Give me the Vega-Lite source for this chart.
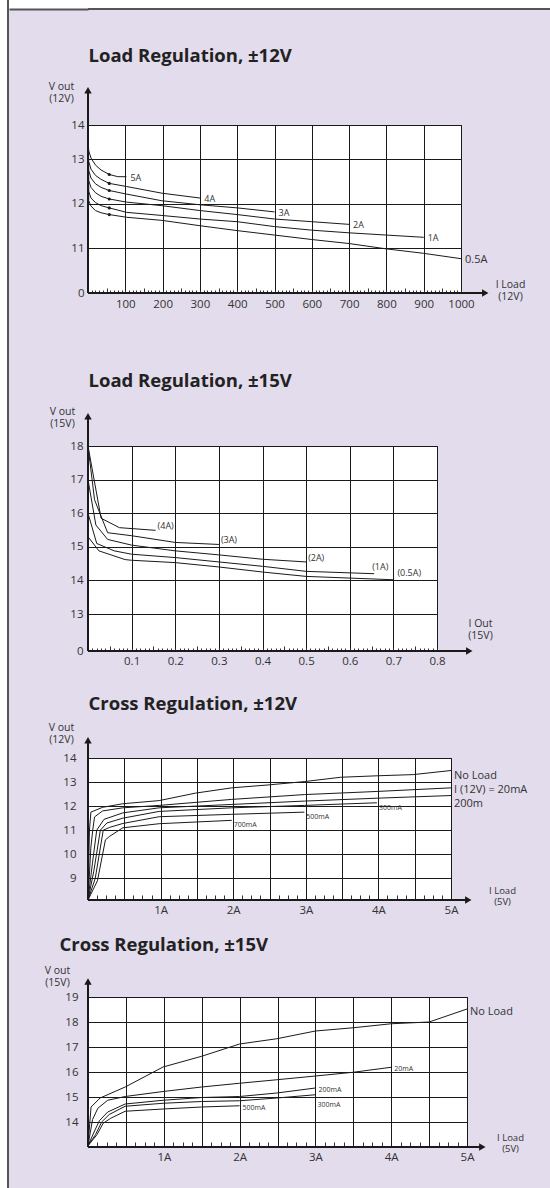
{
"$schema": "https://vega.github.io/schema/vega-lite/v6.json",
"background": "#e2dcec",
"padding": {"left": 0, "top": 0, "right": 40, "bottom": 0},
"config": {
  "font": "Open Sans",
  "view": {"fill": "white", "stroke": "#1a1a1a", "strokeWidth": 1},
  "axis": {"domain": false, "ticks": false, "grid": false, "labelColor": "#333333", "labelFontSize": 11.5, "labelFont": "Open Sans", "gridColor": "#1a1a1a", "gridOpacity": 1, "gridWidth": 1, "titleColor": "#333333", "titleFontWeight": "normal", "titleFontSize": 10.5, "titleFont": "Open Sans", "labelOverlap": false, "labelFlush": false, "tickColor": "#333333", "tickWidth": 1},
  "text": {"font": "Open Sans", "color": "#333333"}
},
"datasets": {
  "p1": [
    {"s":"5A","x":0,"y":13.45},{"s":"5A","x":2,"y":13.19},{"s":"5A","x":8,"y":13.03},{"s":"5A","x":20,"y":12.87},{"s":"5A","x":35,"y":12.76},{"s":"5A","x":57,"y":12.66},{"s":"5A","x":80,"y":12.61},{"s":"5A","x":103,"y":12.61},
    {"s":"4A","x":0,"y":13.45},{"s":"4A","x":2,"y":12.95},{"s":"4A","x":8,"y":12.78},{"s":"4A","x":20,"y":12.64},{"s":"4A","x":35,"y":12.55},{"s":"4A","x":57,"y":12.46},{"s":"4A","x":103,"y":12.39},{"s":"4A","x":198,"y":12.24},{"s":"4A","x":301,"y":12.13},
    {"s":"3A","x":0,"y":13.45},{"s":"3A","x":2,"y":12.75},{"s":"3A","x":8,"y":12.58},{"s":"3A","x":20,"y":12.45},{"s":"3A","x":35,"y":12.37},{"s":"3A","x":57,"y":12.3},{"s":"3A","x":103,"y":12.22},{"s":"3A","x":198,"y":12.07},{"s":"3A","x":300,"y":11.98},{"s":"3A","x":400,"y":11.91},{"s":"3A","x":500,"y":11.82},
    {"s":"2A","x":0,"y":13.45},{"s":"2A","x":2,"y":12.52},{"s":"2A","x":8,"y":12.37},{"s":"2A","x":20,"y":12.25},{"s":"2A","x":35,"y":12.17},{"s":"2A","x":57,"y":12.11},{"s":"2A","x":103,"y":12.04},{"s":"2A","x":198,"y":11.96},{"s":"2A","x":300,"y":11.85},{"s":"2A","x":400,"y":11.76},{"s":"2A","x":500,"y":11.66},{"s":"2A","x":600,"y":11.6},{"s":"2A","x":700,"y":11.54},
    {"s":"1A","x":0,"y":13.45},{"s":"1A","x":2,"y":12.28},{"s":"1A","x":8,"y":12.13},{"s":"1A","x":20,"y":12.03},{"s":"1A","x":35,"y":11.96},{"s":"1A","x":57,"y":11.91},{"s":"1A","x":103,"y":11.81},{"s":"1A","x":198,"y":11.74},{"s":"1A","x":300,"y":11.66},{"s":"1A","x":400,"y":11.6},{"s":"1A","x":500,"y":11.49},{"s":"1A","x":600,"y":11.41},{"s":"1A","x":700,"y":11.35},{"s":"1A","x":800,"y":11.3},{"s":"1A","x":900,"y":11.25},
    {"s":"0.5A","x":0,"y":13.45},{"s":"0.5A","x":2,"y":12.07},{"s":"0.5A","x":8,"y":11.95},{"s":"0.5A","x":20,"y":11.85},{"s":"0.5A","x":35,"y":11.8},{"s":"0.5A","x":57,"y":11.76},{"s":"0.5A","x":103,"y":11.7},{"s":"0.5A","x":198,"y":11.63},{"s":"0.5A","x":300,"y":11.51},{"s":"0.5A","x":400,"y":11.4},{"s":"0.5A","x":500,"y":11.3},{"s":"0.5A","x":600,"y":11.2},{"s":"0.5A","x":700,"y":11.11},{"s":"0.5A","x":800,"y":10.99},{"s":"0.5A","x":900,"y":10.89},{"s":"0.5A","x":1000,"y":10.77}
  ],
  "p2": [
    {"s":"(4A)","x":0,"y":18},{"s":"(4A)","x":0.03,"y":15.85},{"s":"(4A)","x":0.072,"y":15.57},{"s":"(4A)","x":0.155,"y":15.49},
    {"s":"(3A)","x":0,"y":18},{"s":"(3A)","x":0.015,"y":16.4},{"s":"(3A)","x":0.045,"y":15.42},{"s":"(3A)","x":0.1,"y":15.33},{"s":"(3A)","x":0.2,"y":15.13},{"s":"(3A)","x":0.3,"y":15.07},
    {"s":"(2A)","x":0,"y":17},{"s":"(2A)","x":0.018,"y":15.65},{"s":"(2A)","x":0.045,"y":15.22},{"s":"(2A)","x":0.1,"y":15.05},{"s":"(2A)","x":0.2,"y":14.88},{"s":"(2A)","x":0.3,"y":14.76},{"s":"(2A)","x":0.4,"y":14.63},{"s":"(2A)","x":0.5,"y":14.55},
    {"s":"(1A)","x":0,"y":16},{"s":"(1A)","x":0.02,"y":15.1},{"s":"(1A)","x":0.06,"y":14.88},{"s":"(1A)","x":0.1,"y":14.78},{"s":"(1A)","x":0.2,"y":14.68},{"s":"(1A)","x":0.3,"y":14.55},{"s":"(1A)","x":0.4,"y":14.42},{"s":"(1A)","x":0.5,"y":14.27},{"s":"(1A)","x":0.656,"y":14.2},
    {"s":"(0.5A)","x":0,"y":15.3},{"s":"(0.5A)","x":0.025,"y":14.88},{"s":"(0.5A)","x":0.085,"y":14.62},{"s":"(0.5A)","x":0.1,"y":14.6},{"s":"(0.5A)","x":0.2,"y":14.53},{"s":"(0.5A)","x":0.3,"y":14.4},{"s":"(0.5A)","x":0.4,"y":14.25},{"s":"(0.5A)","x":0.5,"y":14.12},{"s":"(0.5A)","x":0.7,"y":14.02}
  ],
  "p3": [
    {"s":"No Load","x":0,"y":8.1},{"s":"No Load","x":0.02,"y":11.0},{"s":"No Load","x":0.04,"y":11.75},{"s":"No Load","x":0.2,"y":11.95},{"s":"No Load","x":0.48,"y":12.1},{"s":"No Load","x":0.98,"y":12.23},{"s":"No Load","x":1.48,"y":12.54},{"s":"No Load","x":1.98,"y":12.76},{"s":"No Load","x":2.48,"y":12.88},{"s":"No Load","x":2.98,"y":13.02},{"s":"No Load","x":3.48,"y":13.2},{"s":"No Load","x":3.98,"y":13.26},{"s":"No Load","x":4.48,"y":13.31},{"s":"No Load","x":5,"y":13.48},
    {"s":"I (12V) = 20mA","x":0,"y":8.1},{"s":"I (12V) = 20mA","x":0.04,"y":10.3},{"s":"I (12V) = 20mA","x":0.065,"y":11.0},{"s":"I (12V) = 20mA","x":0.09,"y":11.55},{"s":"I (12V) = 20mA","x":0.2,"y":11.8},{"s":"I (12V) = 20mA","x":0.48,"y":11.93},{"s":"I (12V) = 20mA","x":0.98,"y":12.03},{"s":"I (12V) = 20mA","x":1.98,"y":12.28},{"s":"I (12V) = 20mA","x":2.98,"y":12.48},{"s":"I (12V) = 20mA","x":3.98,"y":12.61},{"s":"I (12V) = 20mA","x":5,"y":12.76},
    {"s":"200m","x":0,"y":8.1},{"s":"200m","x":0.06,"y":9.6},{"s":"200m","x":0.12,"y":11.0},{"s":"200m","x":0.22,"y":11.45},{"s":"200m","x":0.48,"y":11.72},{"s":"200m","x":0.98,"y":11.93},{"s":"200m","x":1.98,"y":12.07},{"s":"200m","x":2.98,"y":12.21},{"s":"200m","x":3.98,"y":12.33},{"s":"200m","x":5,"y":12.44},
    {"s":"300mA","x":0,"y":8.1},{"s":"300mA","x":0.08,"y":9.3},{"s":"300mA","x":0.17,"y":11.0},{"s":"300mA","x":0.26,"y":11.3},{"s":"300mA","x":0.48,"y":11.5},{"s":"300mA","x":0.98,"y":11.78},{"s":"300mA","x":1.98,"y":11.93},{"s":"300mA","x":2.98,"y":12.03},{"s":"300mA","x":3.98,"y":12.14},
    {"s":"500mA","x":0,"y":8.1},{"s":"500mA","x":0.1,"y":9.0},{"s":"500mA","x":0.21,"y":11.0},{"s":"500mA","x":0.3,"y":11.12},{"s":"500mA","x":0.48,"y":11.28},{"s":"500mA","x":0.98,"y":11.56},{"s":"500mA","x":1.98,"y":11.66},{"s":"500mA","x":2.98,"y":11.75},
    {"s":"700mA","x":0,"y":8.1},{"s":"700mA","x":0.13,"y":8.9},{"s":"700mA","x":0.24,"y":10.6},{"s":"700mA","x":0.3,"y":10.75},{"s":"700mA","x":0.48,"y":11.1},{"s":"700mA","x":0.98,"y":11.27},{"s":"700mA","x":1.98,"y":11.41}
  ],
  "p4": [
    {"s":"No Load","x":0,"y":13.05},{"s":"No Load","x":0.04,"y":14.6},{"s":"No Load","x":0.16,"y":14.96},{"s":"No Load","x":0.49,"y":15.4},{"s":"No Load","x":0.99,"y":16.2},{"s":"No Load","x":1.5,"y":16.63},{"s":"No Load","x":2.0,"y":17.12},{"s":"No Load","x":2.49,"y":17.33},{"s":"No Load","x":3.0,"y":17.64},{"s":"No Load","x":3.5,"y":17.77},{"s":"No Load","x":4.0,"y":17.93},{"s":"No Load","x":4.5,"y":18.0},{"s":"No Load","x":5.0,"y":18.52},
    {"s":"20mA","x":0,"y":13.05},{"s":"20mA","x":0.06,"y":14.1},{"s":"20mA","x":0.13,"y":14.55},{"s":"20mA","x":0.26,"y":14.87},{"s":"20mA","x":0.49,"y":15.02},{"s":"20mA","x":0.99,"y":15.22},{"s":"20mA","x":1.5,"y":15.4},{"s":"20mA","x":2.0,"y":15.55},{"s":"20mA","x":2.49,"y":15.69},{"s":"20mA","x":3.0,"y":15.84},{"s":"20mA","x":3.5,"y":15.99},{"s":"20mA","x":4.0,"y":16.19},
    {"s":"200mA","x":0,"y":13.05},{"s":"200mA","x":0.08,"y":13.6},{"s":"200mA","x":0.15,"y":14.05},{"s":"200mA","x":0.26,"y":14.4},{"s":"200mA","x":0.49,"y":14.72},{"s":"200mA","x":0.99,"y":14.87},{"s":"200mA","x":1.5,"y":14.98},{"s":"200mA","x":2.0,"y":15.02},{"s":"200mA","x":2.49,"y":15.16},{"s":"200mA","x":3.0,"y":15.36},
    {"s":"300mA","x":0,"y":13.05},{"s":"300mA","x":0.1,"y":13.5},{"s":"300mA","x":0.18,"y":14.0},{"s":"300mA","x":0.28,"y":14.3},{"s":"300mA","x":0.49,"y":14.63},{"s":"300mA","x":0.99,"y":14.75},{"s":"300mA","x":1.5,"y":14.82},{"s":"300mA","x":2.0,"y":14.85},{"s":"300mA","x":2.49,"y":14.96},{"s":"300mA","x":3.0,"y":15.09},
    {"s":"500mA","x":0,"y":13.05},{"s":"500mA","x":0.12,"y":13.5},{"s":"500mA","x":0.2,"y":13.95},{"s":"500mA","x":0.3,"y":14.15},{"s":"500mA","x":0.49,"y":14.43},{"s":"500mA","x":0.99,"y":14.52},{"s":"500mA","x":1.5,"y":14.6},{"s":"500mA","x":2.0,"y":14.65}
  ]
},
"spacing": 0,
"bounds": "flush",
"hconcat": [
  {"width": 7, "height": 1188, "data": {"values": []}, "mark": "point", "view": {"fill": "white", "stroke": null}},
  {"width": 2, "height": 1188, "data": {"values": []}, "mark": "point", "view": {"fill": "#555555", "stroke": null}},
  {"width": 79, "height": 9, "data": {"values": [{}]},
   "mark": {"type": "point", "opacity": 0},
   "encoding": {"x": {"datum": 0, "type": "quantitative", "scale": {"domain": [0, 1]},
     "axis": {"orient": "bottom", "domain": true, "domainColor": "#555555", "domainWidth": 2, "labels": false, "ticks": false, "grid": false, "title": null}}},
   "view": {"fill": "white", "stroke": null}},
  {
    "spacing": 0,
    "bounds": "flush",
    "vconcat": [
      {"width": 462, "height": 8, "data": {"values": []}, "mark": "point", "view": {"fill": "white", "stroke": null}},
      {"width": 462, "height": 2, "data": {"values": []}, "mark": "point", "view": {"fill": "#555555", "stroke": null}},
      {"width": 10, "height": 115, "data": {"values": []}, "mark": "point", "view": {"fill": null, "stroke": null}},
      {
        "width": 373, "height": 168,
        "resolve": {"axis": {"x": "independent", "y": "independent"}},
        "layer": [
          {"data": {"name": "p1"}, "mark": {"type": "line", "color": "#1a1a1a", "strokeWidth": 1},
           "encoding": {
             "x": {"field": "x", "type": "quantitative", "scale": {"domain": [0, 1000], "nice": false, "zero": false},
                   "axis": {"orient": "bottom", "values": [100,200,300,400,500,600,700,800,900,1000], "format": "d", "grid": true, "labelPadding": 5, "title": ["I Load", "(12V)"], "titleX": 422, "titleY": -14, "titleAlign": "center", "titleBaseline": "top", "titleLineHeight": 12}},
             "y": {"field": "y", "type": "quantitative", "scale": {"domain": [10, 13.77], "nice": false, "zero": false},
                   "axis": {"orient": "left", "values": [10,11,12,13,13.77], "grid": true, "labelPadding": 4, "labelExpr": "datum.value < 10.5 ? '0' : datum.value > 13.5 ? '14' : datum.label", "title": ["V out", "(12V)"], "titleAngle": 0, "titleX": -27, "titleY": -44, "titleAlign": "center", "titleBaseline": "top", "titleLineHeight": 12}},
             "detail": {"field": "s"}}},
          {"data": {"name": "p1"}, "transform": [{"filter": "datum.x == 57"}],
           "mark": {"type": "circle", "color": "#1a1a1a", "size": 10, "opacity": 1},
           "encoding": {
             "x": {"field": "x", "type": "quantitative", "scale": {"domain": [0, 1000], "nice": false, "zero": false},
                   "axis": {"orient": "bottom", "tickCount": 100, "ticks": true, "tickSize": -3, "labels": false, "title": null}},
             "y": {"field": "y", "type": "quantitative", "scale": {"domain": [10, 13.77], "nice": false, "zero": false}, "axis": null}}},
          {"data": {"name": "p1"},
           "transform": [{"joinaggregate": [{"op": "max", "field": "x", "as": "mx"}], "groupby": ["s"]}, {"filter": "datum.x == datum.mx"}],
           "mark": {"type": "text", "align": "left", "baseline": "middle", "dx": 4, "dy": 1},
           "encoding": {
             "x": {"field": "x", "type": "quantitative", "scale": {"domain": [0, 1000], "nice": false, "zero": false},
                   "axis": {"orient": "bottom", "values": [50,150,250,350,450,550,650,750,850,950], "ticks": true, "tickSize": -5, "labels": false, "title": null}},
             "y": {"field": "y", "type": "quantitative", "scale": {"domain": [10, 13.77], "nice": false, "zero": false}, "axis": null},
             "text": {"field": "s"},
             "size": {"condition": {"test": "datum.s == '0.5A'", "value": 11}, "value": 9}}},
          {"data": {"values": [{}]}, "mark": {"type": "rule", "color": "#1a1a1a", "strokeWidth": 2},
           "encoding": {
             "x": {"datum": 0, "type": "quantitative", "scale": {"domain": [0, 1000], "nice": false, "zero": false},
                   "axis": {"orient": "top", "labels": false, "title": "Load Regulation, ±12V", "titleX": 0, "titleY": -64, "titleAlign": "left", "titleBaseline": "alphabetic", "titleFontSize": 18.5, "titleFontWeight": "bold", "titleColor": "#222222"}},
             "x2": {"datum": 1065},
             "y": {"datum": 10, "type": "quantitative", "scale": {"domain": [10, 13.77], "nice": false, "zero": false}, "axis": null}}},
          {"data": {"values": [{}]}, "mark": {"type": "point", "shape": "triangle-right", "filled": true, "size": 55, "color": "#1a1a1a", "opacity": 1},
           "encoding": {
             "x": {"datum": 1065, "type": "quantitative", "scale": {"domain": [0, 1000], "nice": false, "zero": false}, "axis": null},
             "y": {"datum": 10, "type": "quantitative", "scale": {"domain": [10, 13.77], "nice": false, "zero": false}, "axis": null}}},
          {"data": {"values": [{}]}, "mark": {"type": "rule", "color": "#1a1a1a", "strokeWidth": 2},
           "encoding": {
             "x": {"datum": 0, "type": "quantitative", "scale": {"domain": [0, 1000], "nice": false, "zero": false}, "axis": null},
             "y": {"datum": 10, "type": "quantitative", "scale": {"domain": [10, 13.77], "nice": false, "zero": false}, "axis": null},
             "y2": {"datum": 14.55}}},
          {"data": {"values": [{}]}, "mark": {"type": "point", "shape": "triangle-up", "filled": true, "size": 55, "color": "#1a1a1a", "opacity": 1},
           "encoding": {
             "x": {"datum": 0, "type": "quantitative", "scale": {"domain": [0, 1000], "nice": false, "zero": false}, "axis": null},
             "y": {"datum": 14.55, "type": "quantitative", "scale": {"domain": [10, 13.77], "nice": false, "zero": false}, "axis": null}}}
        ]
      },
      {"width": 10, "height": 153, "data": {"values": []}, "mark": "point", "view": {"fill": null, "stroke": null}},
      {
        "width": 349, "height": 205,
        "resolve": {"axis": {"x": "independent", "y": "independent"}},
        "layer": [
          {"data": {"name": "p2"}, "mark": {"type": "line", "color": "#1a1a1a", "strokeWidth": 1},
           "encoding": {
             "x": {"field": "x", "type": "quantitative", "scale": {"domain": [0, 0.8], "nice": false, "zero": false},
                   "axis": {"orient": "bottom", "values": [0.1,0.2,0.3,0.4,0.5,0.6,0.7,0.8], "format": ".1f", "grid": true, "labelPadding": 4, "title": ["I Out", "(15V)"], "titleX": 392, "titleY": -33, "titleAlign": "center", "titleBaseline": "top", "titleLineHeight": 12.5}},
             "y": {"field": "y", "type": "quantitative", "scale": {"domain": [11.9, 18], "nice": false, "zero": false},
                   "axis": {"orient": "left", "values": [11.9,13,14,15,16,17,18], "grid": true, "labelPadding": 5, "labelExpr": "datum.value < 12.5 ? '0' : datum.label", "title": ["V out", "(15V)"], "titleAngle": 0, "titleX": -26, "titleY": -40, "titleAlign": "center", "titleBaseline": "top", "titleLineHeight": 12}},
             "detail": {"field": "s"}}},
          {"data": {"name": "p2"},
           "transform": [{"joinaggregate": [{"op": "max", "field": "x", "as": "mx"}], "groupby": ["s"]}, {"filter": "datum.x == datum.mx && datum.s != '(1A)' && datum.s != '(0.5A)'"}],
           "mark": {"type": "text", "align": "left", "baseline": "middle", "dx": 2, "dy": -4, "fontSize": 9},
           "encoding": {
             "x": {"field": "x", "type": "quantitative", "scale": {"domain": [0, 0.8], "nice": false, "zero": false},
                   "axis": {"orient": "bottom", "tickCount": 80, "ticks": true, "tickSize": -3, "labels": false, "title": null}},
             "y": {"field": "y", "type": "quantitative", "scale": {"domain": [11.9, 18], "nice": false, "zero": false}, "axis": null},
             "text": {"field": "s"}}},
          {"data": {"name": "p2"},
           "transform": [{"joinaggregate": [{"op": "max", "field": "x", "as": "mx"}], "groupby": ["s"]}, {"filter": "datum.x == datum.mx && datum.s == '(1A)'"}],
           "mark": {"type": "text", "align": "left", "baseline": "middle", "dx": -2, "dy": -7, "fontSize": 9},
           "encoding": {
             "x": {"field": "x", "type": "quantitative", "scale": {"domain": [0, 0.8], "nice": false, "zero": false}, "axis": null},
             "y": {"field": "y", "type": "quantitative", "scale": {"domain": [11.9, 18], "nice": false, "zero": false}, "axis": null},
             "text": {"field": "s"}}},
          {"data": {"name": "p2"},
           "transform": [{"joinaggregate": [{"op": "max", "field": "x", "as": "mx"}], "groupby": ["s"]}, {"filter": "datum.x == datum.mx && datum.s == '(0.5A)'"}],
           "mark": {"type": "text", "align": "left", "baseline": "middle", "dx": 4, "dy": -7, "fontSize": 9},
           "encoding": {
             "x": {"field": "x", "type": "quantitative", "scale": {"domain": [0, 0.8], "nice": false, "zero": false}, "axis": null},
             "y": {"field": "y", "type": "quantitative", "scale": {"domain": [11.9, 18], "nice": false, "zero": false}, "axis": null},
             "text": {"field": "s"}}},
          {"data": {"values": [{}]}, "mark": {"type": "rule", "color": "#1a1a1a", "strokeWidth": 2},
           "encoding": {
             "x": {"datum": 0, "type": "quantitative", "scale": {"domain": [0, 0.8], "nice": false, "zero": false},
                   "axis": {"orient": "top", "labels": false, "title": "Load Regulation, ±15V", "titleX": 0, "titleY": -60, "titleAlign": "left", "titleBaseline": "alphabetic", "titleFontSize": 18.5, "titleFontWeight": "bold", "titleColor": "#222222"}},
             "x2": {"datum": 0.874},
             "y": {"datum": 11.9, "type": "quantitative", "scale": {"domain": [11.9, 18], "nice": false, "zero": false}, "axis": null}}},
          {"data": {"values": [{}]}, "mark": {"type": "point", "shape": "triangle-right", "filled": true, "size": 55, "color": "#1a1a1a", "opacity": 1},
           "encoding": {
             "x": {"datum": 0.874, "type": "quantitative", "scale": {"domain": [0, 0.8], "nice": false, "zero": false},
                   "axis": {"orient": "bottom", "values": [0.05,0.15,0.25,0.35,0.45,0.55,0.65,0.75], "ticks": true, "tickSize": -5, "labels": false, "title": null}},
             "y": {"datum": 11.9, "type": "quantitative", "scale": {"domain": [11.9, 18], "nice": false, "zero": false}, "axis": null}}},
          {"data": {"values": [{}]}, "mark": {"type": "rule", "color": "#1a1a1a", "strokeWidth": 2},
           "encoding": {
             "x": {"datum": 0, "type": "quantitative", "scale": {"domain": [0, 0.8], "nice": false, "zero": false}, "axis": null},
             "y": {"datum": 11.9, "type": "quantitative", "scale": {"domain": [11.9, 18], "nice": false, "zero": false}, "axis": null},
             "y2": {"datum": 18.885}}},
          {"data": {"values": [{}]}, "mark": {"type": "point", "shape": "triangle-up", "filled": true, "size": 55, "color": "#1a1a1a", "opacity": 1},
           "encoding": {
             "x": {"datum": 0, "type": "quantitative", "scale": {"domain": [0, 0.8], "nice": false, "zero": false}, "axis": null},
             "y": {"datum": 18.885, "type": "quantitative", "scale": {"domain": [11.9, 18], "nice": false, "zero": false}, "axis": null}}}
        ]
      },
      {"width": 10, "height": 107, "data": {"values": []}, "mark": "point", "view": {"fill": null, "stroke": null}},
      {
        "width": 363, "height": 142,
        "resolve": {"axis": {"x": "independent", "y": "independent"}},
        "layer": [
          {"data": {"name": "p3"}, "mark": {"type": "line", "color": "#1a1a1a", "strokeWidth": 1},
           "encoding": {
             "x": {"field": "x", "type": "quantitative", "scale": {"domain": [0, 5], "nice": false, "zero": false},
                   "axis": {"orient": "bottom", "values": [0.5,1,1.5,2,2.5,3,3.5,4,4.5,5], "grid": true, "labelPadding": 4, "labelExpr": "datum.value % 1 == 0 ? datum.value + 'A' : ''", "title": ["I Load", "(5V)"], "titleX": 414, "titleY": -15, "titleAlign": "center", "titleBaseline": "top", "titleLineHeight": 11, "titleFontSize": 9.5}},
             "y": {"field": "y", "type": "quantitative", "scale": {"domain": [8.1, 14], "nice": false, "zero": false},
                   "axis": {"orient": "left", "values": [9,10,11,12,13,14], "grid": true, "labelPadding": 12, "title": ["V out", "(12V)"], "titleAngle": 0, "titleX": -27, "titleY": -36, "titleAlign": "center", "titleBaseline": "top", "titleLineHeight": 12}},
             "detail": {"field": "s"}}},
          {"data": {"name": "p3"},
           "transform": [{"joinaggregate": [{"op": "max", "field": "x", "as": "mx"}], "groupby": ["s"]}, {"filter": "datum.x == datum.mx && datum.s == 'No Load'"}],
           "mark": {"type": "text", "align": "left", "baseline": "middle", "dx": 3, "dy": 5, "fontSize": 11},
           "encoding": {
             "x": {"field": "x", "type": "quantitative", "scale": {"domain": [0, 5], "nice": false, "zero": false}, "axis": null},
             "y": {"field": "y", "type": "quantitative", "scale": {"domain": [8.1, 14], "nice": false, "zero": false}, "axis": null},
             "text": {"field": "s"}}},
          {"data": {"name": "p3"},
           "transform": [{"joinaggregate": [{"op": "max", "field": "x", "as": "mx"}], "groupby": ["s"]}, {"filter": "datum.x == datum.mx && datum.s == 'I (12V) = 20mA'"}],
           "mark": {"type": "text", "align": "left", "baseline": "middle", "dx": 3, "dy": 2, "fontSize": 11},
           "encoding": {
             "x": {"field": "x", "type": "quantitative", "scale": {"domain": [0, 5], "nice": false, "zero": false}, "axis": null},
             "y": {"field": "y", "type": "quantitative", "scale": {"domain": [8.1, 14], "nice": false, "zero": false}, "axis": null},
             "text": {"field": "s"}}},
          {"data": {"name": "p3"},
           "transform": [{"joinaggregate": [{"op": "max", "field": "x", "as": "mx"}], "groupby": ["s"]}, {"filter": "datum.x == datum.mx && datum.s == '200m'"}],
           "mark": {"type": "text", "align": "left", "baseline": "middle", "dx": 3, "dy": 8, "fontSize": 11},
           "encoding": {
             "x": {"field": "x", "type": "quantitative", "scale": {"domain": [0, 5], "nice": false, "zero": false}, "axis": null},
             "y": {"field": "y", "type": "quantitative", "scale": {"domain": [8.1, 14], "nice": false, "zero": false}, "axis": null},
             "text": {"field": "s"}}},
          {"data": {"name": "p3"},
           "transform": [{"joinaggregate": [{"op": "max", "field": "x", "as": "mx"}], "groupby": ["s"]}, {"filter": "datum.x == datum.mx && datum.x < 4.9"}],
           "mark": {"type": "text", "align": "left", "baseline": "middle", "dx": 2, "dy": 5, "fontSize": 7},
           "encoding": {
             "x": {"field": "x", "type": "quantitative", "scale": {"domain": [0, 5], "nice": false, "zero": false},
                   "axis": {"orient": "bottom", "values": [0.125,0.25,0.375,0.625,0.75,0.875,1.125,1.25,1.375,1.625,1.75,1.875,2.125,2.25,2.375,2.625,2.75,2.875,3.125,3.25,3.375,3.625,3.75,3.875,4.125,4.25,4.375,4.625,4.75,4.875], "ticks": true, "tickSize": -5, "labels": false, "title": null}},
             "y": {"field": "y", "type": "quantitative", "scale": {"domain": [8.1, 14], "nice": false, "zero": false}, "axis": null},
             "text": {"field": "s"}}},
          {"data": {"values": [{}]}, "mark": {"type": "rule", "color": "#1a1a1a", "strokeWidth": 2},
           "encoding": {
             "x": {"datum": 0, "type": "quantitative", "scale": {"domain": [0, 5], "nice": false, "zero": false},
                   "axis": {"orient": "top", "labels": false, "title": "Cross Regulation, ±12V", "titleX": 0, "titleY": -49, "titleAlign": "left", "titleBaseline": "alphabetic", "titleFontSize": 18.5, "titleFontWeight": "bold", "titleColor": "#222222"}},
             "x2": {"datum": 5.238},
             "y": {"datum": 8.1, "type": "quantitative", "scale": {"domain": [8.1, 14], "nice": false, "zero": false}, "axis": null}}},
          {"data": {"values": [{}]}, "mark": {"type": "point", "shape": "triangle-right", "filled": true, "size": 55, "color": "#1a1a1a", "opacity": 1},
           "encoding": {
             "x": {"datum": 5.238, "type": "quantitative", "scale": {"domain": [0, 5], "nice": false, "zero": false}, "axis": null},
             "y": {"datum": 8.1, "type": "quantitative", "scale": {"domain": [8.1, 14], "nice": false, "zero": false}, "axis": null}}},
          {"data": {"values": [{}]}, "mark": {"type": "rule", "color": "#1a1a1a", "strokeWidth": 2},
           "encoding": {
             "x": {"datum": 0, "type": "quantitative", "scale": {"domain": [0, 5], "nice": false, "zero": false}, "axis": null},
             "y": {"datum": 8.1, "type": "quantitative", "scale": {"domain": [8.1, 14], "nice": false, "zero": false}, "axis": null},
             "y2": {"datum": 14.74}}},
          {"data": {"values": [{}]}, "mark": {"type": "point", "shape": "triangle-up", "filled": true, "size": 55, "color": "#1a1a1a", "opacity": 1},
           "encoding": {
             "x": {"datum": 0, "type": "quantitative", "scale": {"domain": [0, 5], "nice": false, "zero": false}, "axis": null},
             "y": {"datum": 14.74, "type": "quantitative", "scale": {"domain": [8.1, 14], "nice": false, "zero": false}, "axis": null}}}
        ]
      },
      {"width": 10, "height": 97, "data": {"values": []}, "mark": "point", "view": {"fill": null, "stroke": null}},
      {
        "width": 379, "height": 150,
        "resolve": {"axis": {"x": "independent", "y": "independent"}},
        "layer": [
          {"data": {"name": "p4"}, "mark": {"type": "line", "color": "#1a1a1a", "strokeWidth": 1},
           "encoding": {
             "x": {"field": "x", "type": "quantitative", "scale": {"domain": [0, 5], "nice": false, "zero": false},
                   "axis": {"orient": "bottom", "values": [0.5,1,1.5,2,2.5,3,3.5,4,4.5,5], "grid": true, "labelPadding": 4, "labelExpr": "datum.value % 1 == 0 ? datum.value + 'A' : ''", "title": ["I  Load", "(5V)"], "titleX": 422, "titleY": -15, "titleAlign": "center", "titleBaseline": "top", "titleLineHeight": 11, "titleFontSize": 9.5}},
             "y": {"field": "y", "type": "quantitative", "scale": {"domain": [13, 19], "nice": false, "zero": false},
                   "axis": {"orient": "left", "values": [14,15,16,17,18,19], "grid": true, "labelPadding": 10, "title": ["V out", "(15V)"], "titleAngle": 0, "titleX": -31, "titleY": -32, "titleAlign": "center", "titleBaseline": "top", "titleLineHeight": 12}},
             "detail": {"field": "s"}}},
          {"data": {"name": "p4"},
           "transform": [{"joinaggregate": [{"op": "max", "field": "x", "as": "mx"}], "groupby": ["s"]}, {"filter": "datum.x == datum.mx && datum.s == 'No Load'"}],
           "mark": {"type": "text", "align": "left", "baseline": "middle", "dx": 3, "dy": 3, "fontSize": 11},
           "encoding": {
             "x": {"field": "x", "type": "quantitative", "scale": {"domain": [0, 5], "nice": false, "zero": false}, "axis": null},
             "y": {"field": "y", "type": "quantitative", "scale": {"domain": [13, 19], "nice": false, "zero": false}, "axis": null},
             "text": {"field": "s"}}},
          {"data": {"name": "p4"},
           "transform": [{"joinaggregate": [{"op": "max", "field": "x", "as": "mx"}], "groupby": ["s"]}, {"filter": "datum.x == datum.mx && datum.s != 'No Load' && datum.s != '300mA'"}],
           "mark": {"type": "text", "align": "left", "baseline": "middle", "dx": 3, "dy": 2, "fontSize": 7},
           "encoding": {
             "x": {"field": "x", "type": "quantitative", "scale": {"domain": [0, 5], "nice": false, "zero": false},
                   "axis": {"orient": "bottom", "values": [0.125,0.25,0.375,0.625,0.75,0.875,1.125,1.25,1.375,1.625,1.75,1.875,2.125,2.25,2.375,2.625,2.75,2.875,3.125,3.25,3.375,3.625,3.75,3.875,4.125,4.25,4.375,4.625,4.75,4.875], "ticks": true, "tickSize": -5, "labels": false, "title": null}},
             "y": {"field": "y", "type": "quantitative", "scale": {"domain": [13, 19], "nice": false, "zero": false}, "axis": null},
             "text": {"field": "s"}}},
          {"data": {"name": "p4"},
           "transform": [{"joinaggregate": [{"op": "max", "field": "x", "as": "mx"}], "groupby": ["s"]}, {"filter": "datum.x == datum.mx && datum.s == '300mA'"}],
           "mark": {"type": "text", "align": "left", "baseline": "middle", "dx": 2, "dy": 10, "fontSize": 7},
           "encoding": {
             "x": {"field": "x", "type": "quantitative", "scale": {"domain": [0, 5], "nice": false, "zero": false}, "axis": null},
             "y": {"field": "y", "type": "quantitative", "scale": {"domain": [13, 19], "nice": false, "zero": false}, "axis": null},
             "text": {"field": "s"}}},
          {"data": {"values": [{}]}, "mark": {"type": "rule", "color": "#1a1a1a", "strokeWidth": 2},
           "encoding": {
             "x": {"datum": 0, "type": "quantitative", "scale": {"domain": [0, 5], "nice": false, "zero": false},
                   "axis": {"orient": "top", "labels": false, "title": "Cross Regulation, ±15V", "titleX": -29, "titleY": -47, "titleAlign": "left", "titleBaseline": "alphabetic", "titleFontSize": 18.5, "titleFontWeight": "bold", "titleColor": "#222222"}},
             "x2": {"datum": 5.202},
             "y": {"datum": 13, "type": "quantitative", "scale": {"domain": [13, 19], "nice": false, "zero": false}, "axis": null}}},
          {"data": {"values": [{}]}, "mark": {"type": "point", "shape": "triangle-right", "filled": true, "size": 55, "color": "#1a1a1a", "opacity": 1},
           "encoding": {
             "x": {"datum": 5.202, "type": "quantitative", "scale": {"domain": [0, 5], "nice": false, "zero": false}, "axis": null},
             "y": {"datum": 13, "type": "quantitative", "scale": {"domain": [13, 19], "nice": false, "zero": false}, "axis": null}}},
          {"data": {"values": [{}]}, "mark": {"type": "rule", "color": "#1a1a1a", "strokeWidth": 2},
           "encoding": {
             "x": {"datum": 0, "type": "quantitative", "scale": {"domain": [0, 5], "nice": false, "zero": false}, "axis": null},
             "y": {"datum": 13, "type": "quantitative", "scale": {"domain": [13, 19], "nice": false, "zero": false}, "axis": null},
             "y2": {"datum": 19.62}}},
          {"data": {"values": [{}]}, "mark": {"type": "point", "shape": "triangle-up", "filled": true, "size": 55, "color": "#1a1a1a", "opacity": 1},
           "encoding": {
             "x": {"datum": 0, "type": "quantitative", "scale": {"domain": [0, 5], "nice": false, "zero": false}, "axis": null},
             "y": {"datum": 19.62, "type": "quantitative", "scale": {"domain": [13, 19], "nice": false, "zero": false}, "axis": null}}}
        ]
      },
      {"width": 10, "height": 60, "data": {"values": []}, "mark": "point", "view": {"fill": null, "stroke": null}}
    ]
  }
]
}
